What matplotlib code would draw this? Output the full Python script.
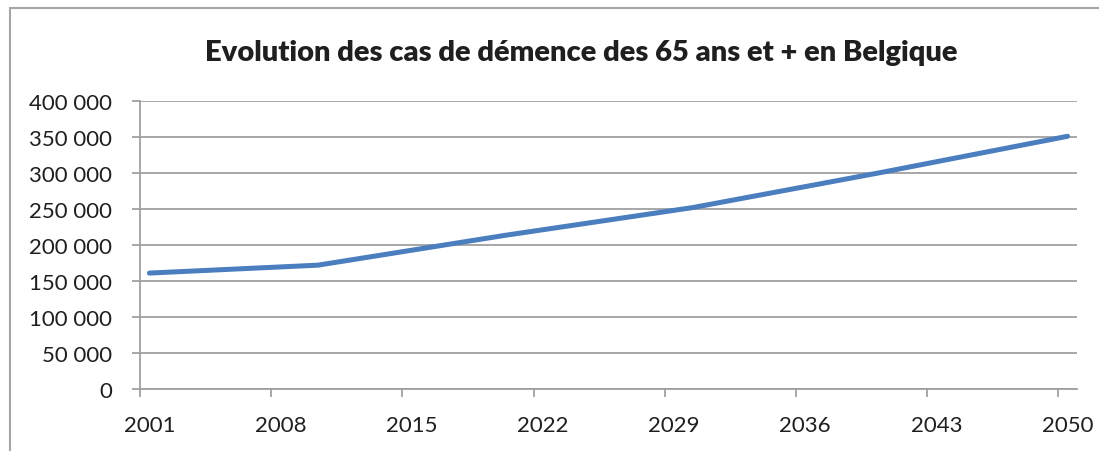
import matplotlib
matplotlib.use("Agg")
import matplotlib.pyplot as plt
from matplotlib.patches import Rectangle

years = [2001, 2010, 2020, 2030, 2040, 2050]
cases = [161000, 172000, 213500, 252000, 300500, 351000]
label_years = [2001, 2008, 2015, 2022, 2029, 2036, 2043, 2050]
y_ticks = [0, 50000, 100000, 150000, 200000, 250000, 300000, 350000, 400000]
title = "Evolution des cas de démence des 65 ans et + en Belgique"

plt.rcParams['font.family'] = ['Lato', 'DejaVu Sans']
grey = '#A0A0A0'
txt = '#1F1F1F'

fig = plt.figure(figsize=(10.99, 4.52), dpi=100)
fig.patches.append(Rectangle((10 / 1099, -0.1), 1.2, 1 - 9 / 452 + 0.1,
                             transform=fig.transFigure, fill=False,
                             edgecolor='#A6A6A6', linewidth=1.5))

ax = fig.add_axes([140 / 1099, 62 / 452, 937 / 1099, 288 / 452])
ax.plot(years, cases, color='#4A7EBF', linewidth=3.6, solid_capstyle='round',
        zorder=3)

ax.set_xlim(2000.5, 2050.5)
ax.set_ylim(0, 400000)
ax.set_yticks(y_ticks)
ax.set_yticklabels([f"{v:,}".replace(",", " ") for v in y_ticks])
ax.yaxis.grid(True, color=grey, linewidth=1.3)
ax.set_axisbelow(True)

ax.set_xticks([y - 0.5 for y in label_years])
ax.set_xticklabels([])
ax.set_xticks(label_years, minor=True)
ax.set_xticklabels([str(y) for y in label_years], minor=True)

ax.tick_params(axis='x', which='major', length=6, width=1.3, color=grey)
ax.tick_params(axis='x', which='minor', length=0, pad=19, labelsize=16,
               labelcolor=txt)
ax.tick_params(axis='y', length=6, width=1.3, color=grey, pad=14,
               labelsize=16, labelcolor=txt)

for s in ['top', 'right']:
    ax.spines[s].set_visible(False)
for s in ['left', 'bottom']:
    ax.spines[s].set_color(grey)
    ax.spines[s].set_linewidth(1.3)

fig.text(581 / 1099, 1 - 53 / 452, title, ha='center', va='center',
         fontsize=21, fontweight='heavy', color=txt)

fig.savefig("out.png", dpi=100)
